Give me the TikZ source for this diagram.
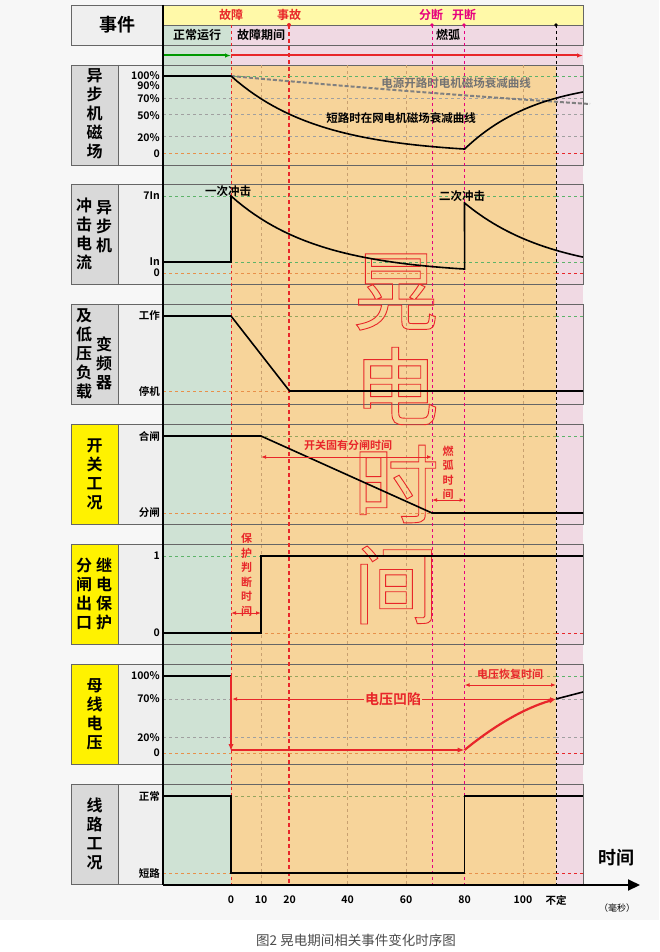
\documentclass[tikz,border=0pt]{standalone}
\usepackage{fontspec}
\setmainfont{Noto Sans CJK SC}
\newfontfamily\cjkb{Noto Sans CJK SC Bold}
\usetikzlibrary{arrows.meta}
\definecolor{bggreen}{HTML}{CFE2D4}
\definecolor{bgorange}{HTML}{F7D49A}
\definecolor{bgpink}{HTML}{F0D9E3}
\definecolor{hdyellow}{HTML}{FFF9A8}
\definecolor{lblyellow}{HTML}{FFF200}
\definecolor{lblgray}{HTML}{D9D9D9}
\definecolor{valgray}{HTML}{EFEFEF}
\definecolor{fred}{HTML}{E8262A}
\definecolor{fmag}{HTML}{E6007E}
\definecolor{tan}{HTML}{C8A070}
\definecolor{lvgreen}{HTML}{5DB36A}
\definecolor{lvorange}{HTML}{E8904A}
\definecolor{lvgray}{HTML}{A0A0A0}
\newcommand\outl[1]{\special{pdf:literal direct 1 Tr 0.9 w 0.91 0.15 0.16 RG}#1\special{pdf:literal direct 0 Tr}}
\tikzset{
 frame/.style={draw=gray!80!black, line width=0.6pt},
 sig/.style={line width=1.6pt, black},
 vlab/.style={font=\cjkb\fontsize{16}{19}\selectfont, align=center, inner sep=0pt},
 val/.style={font=\cjkb\fontsize{10.5}{12}\selectfont, anchor=east, inner sep=0pt},
 redlab/.style={font=\cjkb\fontsize{11}{13}\selectfont, text=fred, inner sep=1pt},
 redarr/.style={fred, line width=1pt, {Latex[length=5pt]}-{Latex[length=5pt]}},
 lev/.style={dashed, line width=0.6pt},
}
\begin{document}
\begin{tikzpicture}[x=1pt,y=-1pt]
\useasboundingbox (0,0) rectangle (659,952);
\fill[white] (0,0) rectangle (659,952);
\fill[black!3] (0,0) rectangle (659,920);
% backgrounds
\fill[bggreen] (163,25) rectangle (231,884);
\fill[bgorange] (231,65) rectangle (556,884);
\fill[bgpink] (231,25) rectangle (583,65);
\fill[bgpink] (556,45) rectangle (583,884);
\fill[hdyellow] (163,5) rectangle (583,25);
% panels (label and value columns)
\foreach \t/\c in {65/lblgray,184/lblgray,304/lblgray,424/lblyellow,544/lblyellow,664/lblyellow,784/lblgray}{
  \fill[\c] (71,\t) rectangle (118,\t+100);
  \fill[valgray] (118,\t) rectangle (163,\t+100);
  \draw[frame] (71,\t) rectangle (583,\t+100);
  \draw[frame] (118,\t) -- (118,\t+100);
}
% event header
\fill[valgray] (71,5) rectangle (163,45);
\draw[frame] (71,5) rectangle (583,45);
\draw[frame] (163,25) -- (583,25);
\node[font=\cjkb\fontsize{18}{20}\selectfont] (hdr) at (117,25) {事件};
\node[font=\cjkb\fontsize{12}{13}\selectfont, text=fred] (gz) at (231,15) {故障};
\node[font=\cjkb\fontsize{12}{13}\selectfont, text=fred] (sg) at (289,15) {事故};
\node[font=\cjkb\fontsize{12}{13}\selectfont, text=fmag] (fd) at (431,15) {分断};
\node[font=\cjkb\fontsize{12}{13}\selectfont, text=fmag] (kd) at (464,15) {开断};
\node[font=\cjkb\fontsize{12}{13}\selectfont] (zc) at (197,35) {正常运行};
\node[font=\cjkb\fontsize{12}{13}\selectfont] (gq) at (261,35) {故障期间};
\node[font=\cjkb\fontsize{12}{13}\selectfont] (rh) at (448,35) {燃弧};
% vertical time lines
\draw[fred, dashed, line width=1pt] (231,25) -- (231,884);
\draw[fred, dash pattern=on 4pt off 3pt, line width=2pt] (289,25) -- (289,884);
\fill[fred] (289,25) circle (2pt);
\foreach \x in {432,464}{\draw[fmag, dashed, line width=0.9pt] (\x,25) -- (\x,884); \fill[fmag] (\x,25) circle (1.8pt);}
\draw[black, dashed, line width=0.9pt] (556,25) -- (556,884);
\fill (556,25) circle (1.8pt);
\foreach \x in {261,347.5,406,523}{\draw[tan, dashed, line width=0.8pt] (\x,65) -- (\x,884);}
% arrow row
\draw[green!60!black, line width=2pt, -{Latex[length=6pt]}] (163,55.5) -- (231,55.5);
\draw[fred, line width=2pt, -{Latex[length=6pt]}] (231,55.5) -- (583,55.5);
% level lines
\newcommand\lv[3]{\draw[lev,#2] (163,#1) -- (556,#1); \draw[lev,#3] (556,#1) -- (583,#1);}
\lv{76}{lvgreen}{lvgreen}\lv{98.7}{lvgray}{lvgray}\lv{114}{lvgray}{lvgray}\lv{136}{lvgray}{lvgray}\lv{153}{lvorange}{fred}
\lv{196}{lvgreen}{lvgreen}\lv{262}{lvgreen}{lvgreen}\lv{273}{lvorange}{fred}
\lv{316}{lvgreen!60!lvorange}{lvgreen}\lv{391}{lvorange}{fred}
\lv{436}{lvgreen!60!lvorange}{lvgreen}\lv{513}{lvorange}{fred}
\lv{556}{lvgreen}{lvgreen}\lv{633}{lvorange}{fred}
\lv{676}{lvgreen!60!lvorange}{lvgreen}\lv{699}{lvgray}{lvgray}\lv{737.5}{lvgray}{lvgray}\lv{753}{lvorange}{fred}
\lv{796}{lvgreen!60!lvorange}{lvgreen}\lv{873}{lvorange}{fred}
% big outlined characters
\foreach \ch/\y in {晃/292,电/386,时/484,间/585}{
  \node[font=\fontsize{86}{90}\selectfont, inner sep=0pt] at (396,\y) {\outl{\ch}};
}
% labels: column texts
\node[vlab] (l1) at (94.5,114) {异\\步\\机\\磁\\场};
\node[vlab] (l2a) at (84,234) {冲\\击\\电\\流};
\node[vlab] (l2b) at (104,227) {异\\步\\机};
\node[vlab] (l3a) at (84,354) {及\\低\\压\\负\\载};
\node[vlab] (l3b) at (104,363) {变\\频\\器};
\node[vlab] (l4) at (94.5,474) {开\\关\\工\\况};
\node[vlab] (l5a) at (84,594) {分\\闸\\出\\口};
\node[vlab] (l5b) at (104,594) {继\\电\\保\\护};
\node[vlab] (l6) at (94.5,714) {母\\线\\电\\压};
\node[vlab] (l7) at (94.5,834) {线\\路\\工\\况};
% value labels
\foreach \y/\t in {76/100\%,86/90\%,98.7/70\%,116/50\%,138/20\%,154/0,196/7In,262/In,273/0,316/工作,391/停机,436/合闸,513/分闸,556/1,633/0,676/100\%,699/70\%,737.5/20\%,753/0,796/正常,873/短路}{
  \node[val] at (160,\y) {\t};
}
% axes
\draw[line width=2pt] (163,5) -- (163,885);
\draw[line width=2pt, -{Triangle[length=12pt,width=11pt]}] (163,885) -- (640,885);
\node[font=\cjkb\fontsize{18}{20}\selectfont] (tl) at (616,858) {时间};
\foreach \x/\t in {231/0,261/10,289.5/20,347.5/40,406/60,464.5/80,523/100,556/不定}{
  \node[font=\cjkb\fontsize{10.5}{12}\selectfont] at (\x,900) {\t};
}
\node[font=\fontsize{9}{10}\selectfont] (ms) at (617,908) {（毫秒）};
\node[font=\fontsize{13.5}{15}\selectfont, text=black!70] (cap) at (356,940) {图2\ 晃电期间相关事件变化时序图};
% panel 1 curves
\draw[lvgray!80!black, line width=2pt, dash pattern=on 4pt off 2pt] (231,76) .. controls (350,87) and (480,97) .. (590,104);
\draw[sig] (163,76) -- (231,76) -- plot[domain=0:80,samples=40] ({231+2.92*\x},{76+78.5*(1-exp(-\x/30))}) .. controls (500,115) and (540,100) .. (583,92);
\node[font=\cjkb\fontsize{11.5}{13}\selectfont, text=black!55] (c1) at (456,83) {电源开路时电机磁场衰减曲线};
\node[font=\cjkb\fontsize{11.5}{13}\selectfont] (c2) at (401,118) {短路时在网电机磁场衰减曲线};
% panel 2
\draw[sig] (163,262) -- (231,262) -- (231,196) -- plot[domain=0:80,samples=40] ({231+2.92*\x},{196+78.5*(1-exp(-\x/30))}) -- (464.5,203) -- plot[domain=80:120.5,samples=30] ({231+2.92*\x},{203+73*(1-exp(-(\x-80)/30))});
\node[font=\cjkb\fontsize{11.5}{13}\selectfont] at (228,191) {一次冲击};
\node[font=\cjkb\fontsize{11.5}{13}\selectfont] at (462,196) {二次冲击};
% panel 3
\draw[sig] (163,316) -- (231,316) -- (289.5,391) -- (583,391);
% panel 4
\draw[sig] (163,436) -- (261,436) -- (432,513) -- (583,513);
\draw[redarr] (261,457) -- (432,457);
\node[redlab] at (348,445) {开关固有分闸时间};
\node[redlab, align=center, font=\cjkb\fontsize{11}{14.5}\selectfont] at (448,473) {燃\\弧\\时\\间};
\draw[redarr] (432,500) -- (464.5,500);
% panel 5
\draw[sig] (163,633) -- (261,633) -- (261,556) -- (583,556);
\node[redlab, align=center, font=\cjkb\fontsize{11}{14.5}\selectfont] at (246.5,575) {保\\护\\判\\断\\时\\间};
\draw[redarr] (231,613) -- (261,613);
% panel 6
\draw[sig] (163,676) -- (231,676);
\draw[fred, line width=2.2pt, -{Latex[length=7pt]}] (231,676) -- (231,751);
\draw[fred, line width=2.2pt, -{Latex[length=7pt]}] (231,750) -- (464.5,750);
\draw[fred, line width=2.2pt, -{Latex[length=7pt]}] (464.5,750) .. controls (495,725) and (525,708) .. (556,699);
\draw[black, line width=1.6pt] (556,699) -- (583,692);
\draw[redarr] (232,699) -- (555,699);
\node[font=\cjkb\fontsize{14}{16}\selectfont, text=fred, fill=bgorange, inner sep=1pt] at (393,699) {电压凹陷};
\draw[redarr] (464.5,685) -- (556,685);
\node[redlab] at (510,674) {电压恢复时间};
% panel 7
\draw[sig] (163,796) -- (231,796) -- (231,873) -- (464.5,873) -- (464.5,796) -- (583,796);
\end{tikzpicture}
\end{document}
